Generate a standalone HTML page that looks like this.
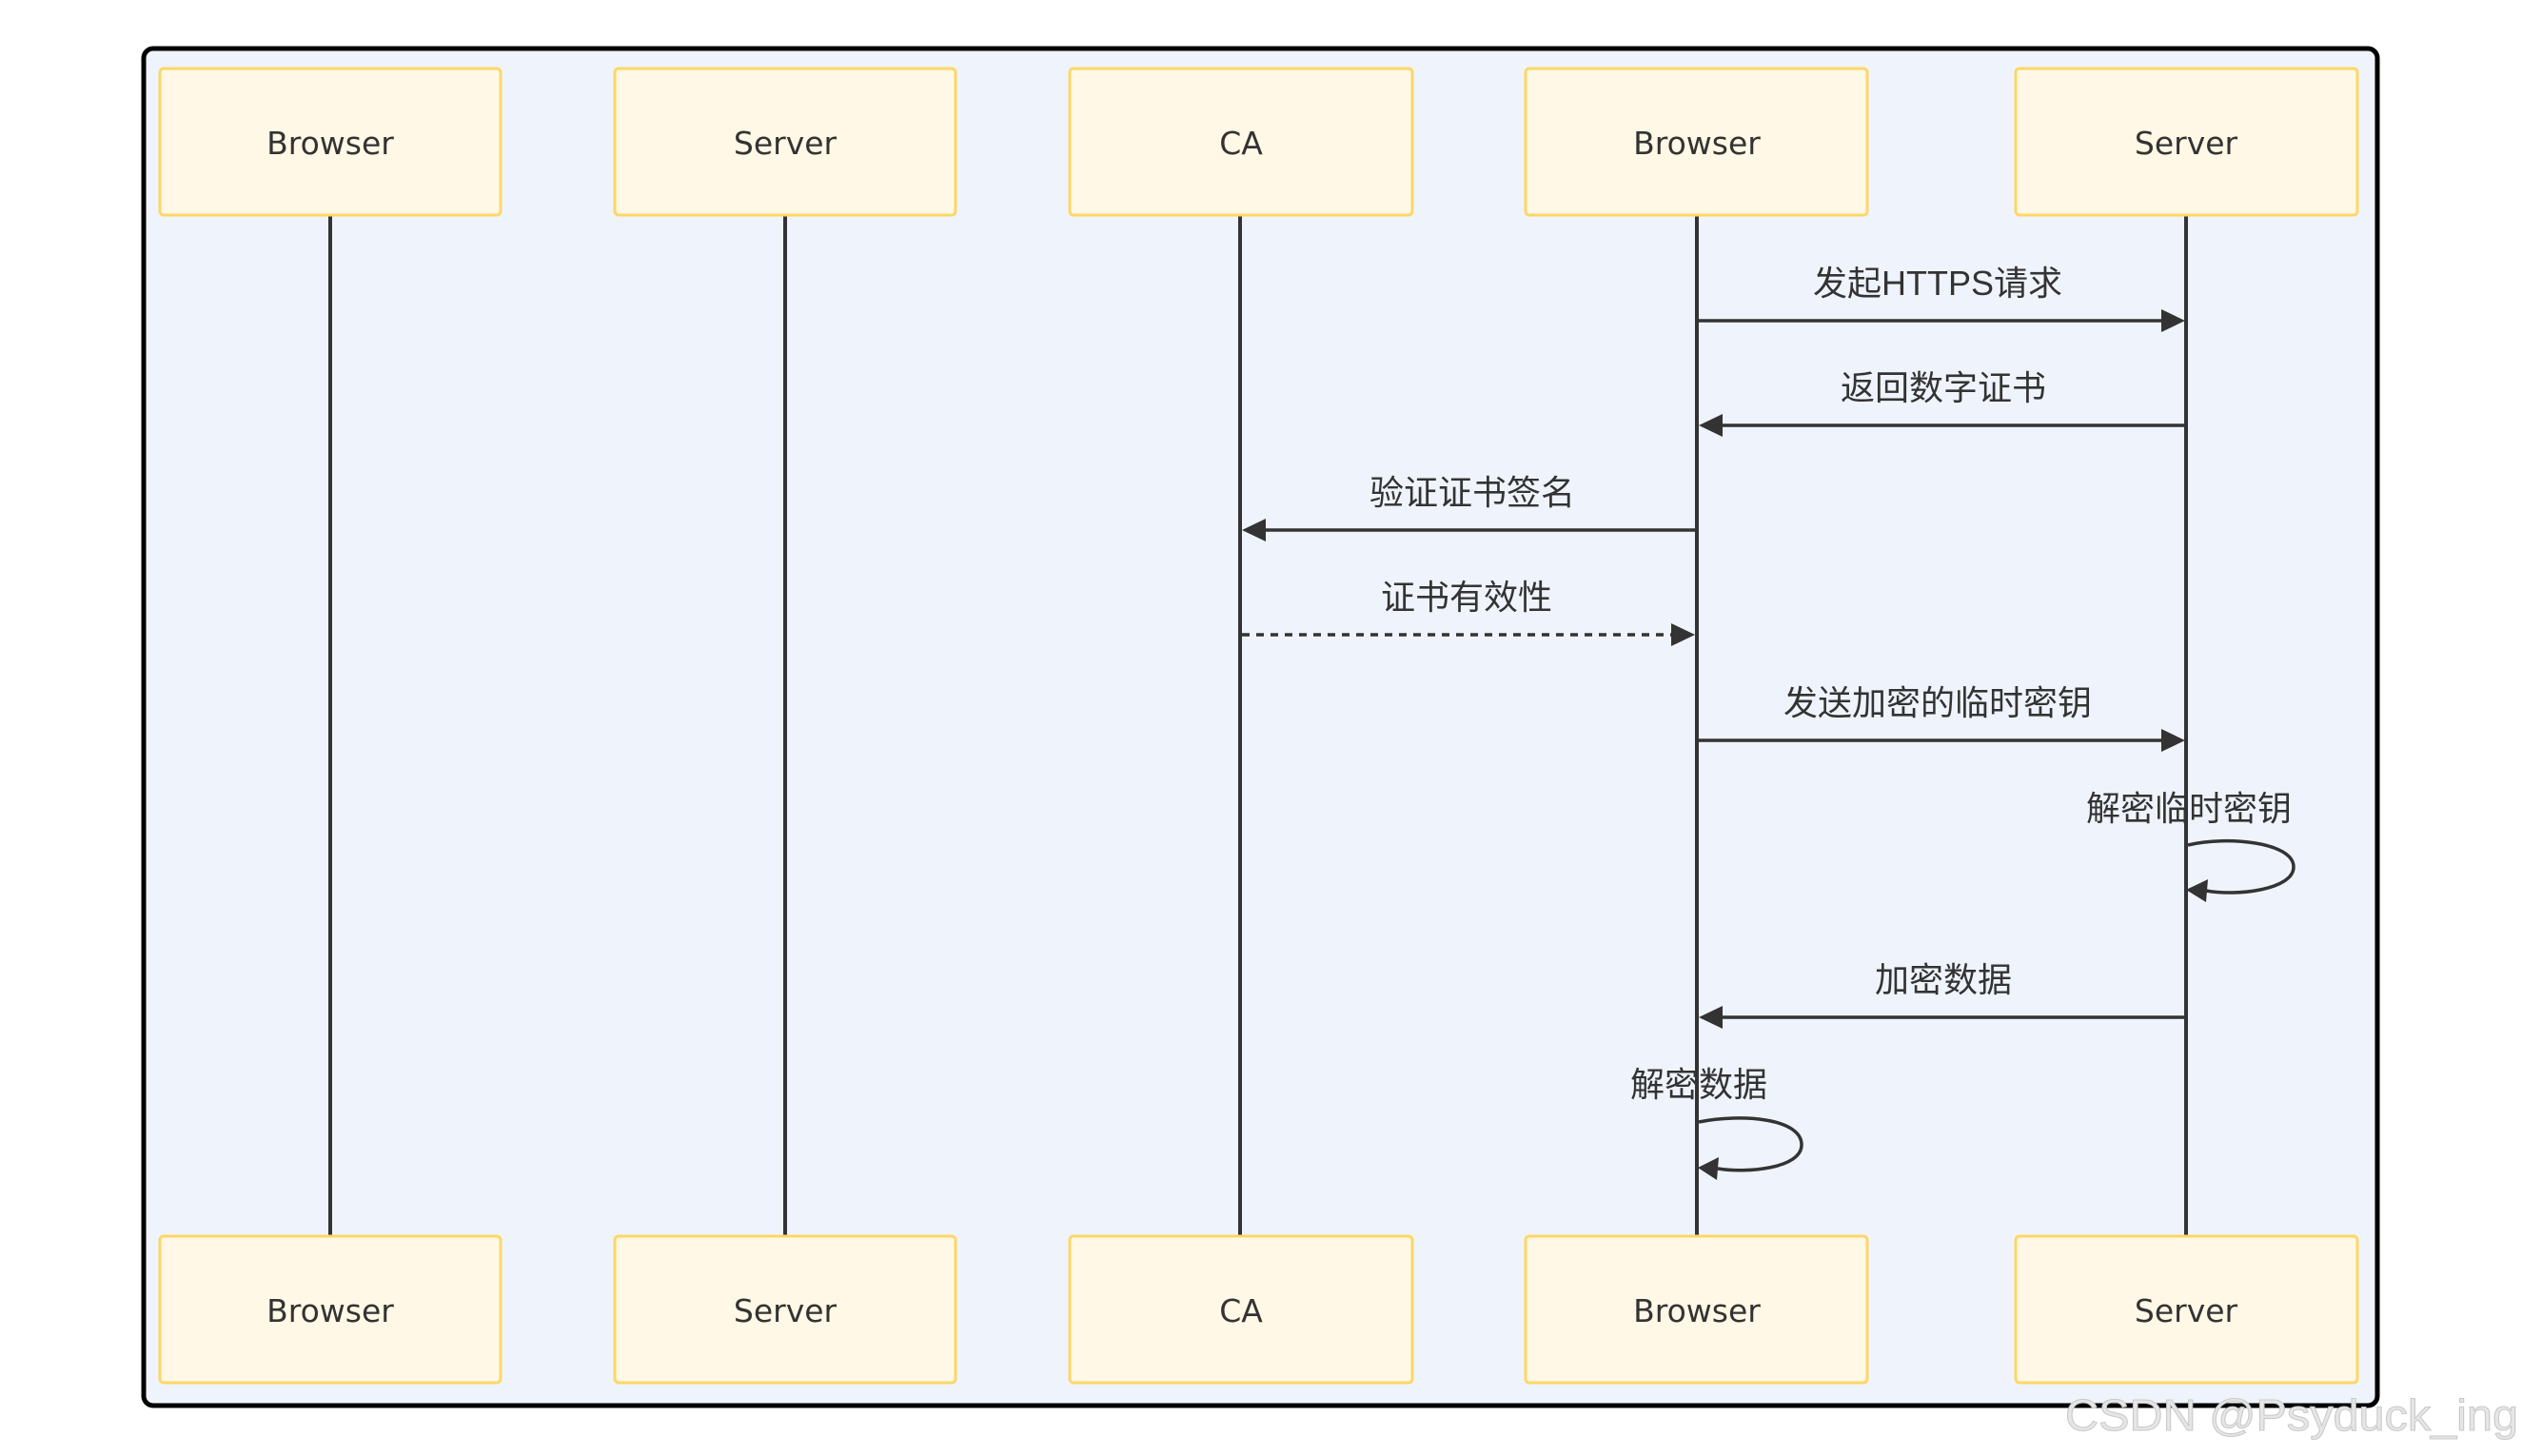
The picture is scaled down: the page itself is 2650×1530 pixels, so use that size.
<!DOCTYPE html>
<html><head><meta charset="utf-8"><style>
html,body{margin:0;padding:0;background:#fff;}
svg{display:block;}
.lbl{font-family:"Liberation Sans","Noto Sans CJK SC",sans-serif;font-size:36px;fill:#333;text-anchor:middle;}
.box{fill:#fff8e6;stroke:#ffd666;stroke-width:3;}
.bt{font-family:"DejaVu Sans","Liberation Sans",sans-serif;font-size:33px;fill:#333;text-anchor:middle;}
.life{stroke:#333;stroke-width:4;}
.msg{stroke:#333;stroke-width:3.5;fill:none;}
</style></head><body>
<svg width="2650" height="1530" viewBox="0 0 2650 1530" xmlns="http://www.w3.org/2000/svg">
<rect x="151" y="51" width="2347" height="1426" rx="10" fill="#eff4fc" stroke="#000" stroke-width="5"/>
<!-- lifelines -->
<line class="life" x1="347" y1="226" x2="347" y2="1299"/>
<line class="life" x1="825" y1="226" x2="825" y2="1299"/>
<line class="life" x1="1303" y1="226" x2="1303" y2="1299"/>
<line class="life" x1="1783" y1="226" x2="1783" y2="1299"/>
<line class="life" x1="2297" y1="226" x2="2297" y2="1299"/>
<!-- top boxes -->
<rect class="box" x="168" y="72" width="358" height="154" rx="4"/>
<rect class="box" x="646" y="72" width="358" height="154" rx="4"/>
<rect class="box" x="1124" y="72" width="360" height="154" rx="4"/>
<rect class="box" x="1603" y="72" width="359" height="154" rx="4"/>
<rect class="box" x="2118" y="72" width="359" height="154" rx="4"/>
<text class="bt" x="347" y="162">Browser</text>
<text class="bt" x="825" y="162">Server</text>
<text class="bt" x="1304" y="162">CA</text>
<text class="bt" x="1783" y="162">Browser</text>
<text class="bt" x="2297" y="162">Server</text>
<!-- bottom boxes -->
<rect class="box" x="168" y="1299" width="358" height="154" rx="4"/>
<rect class="box" x="646" y="1299" width="358" height="154" rx="4"/>
<rect class="box" x="1124" y="1299" width="360" height="154" rx="4"/>
<rect class="box" x="1603" y="1299" width="359" height="154" rx="4"/>
<rect class="box" x="2118" y="1299" width="359" height="154" rx="4"/>
<text class="bt" x="347" y="1389">Browser</text>
<text class="bt" x="825" y="1389">Server</text>
<text class="bt" x="1304" y="1389">CA</text>
<text class="bt" x="1783" y="1389">Browser</text>
<text class="bt" x="2297" y="1389">Server</text>
<!-- messages -->
<text class="lbl" x="2036" y="310">发起HTTPS请求</text>
<line class="msg" x1="1785" y1="337" x2="2272" y2="337"/>
<polygon points="2296,337 2271,325 2271,349" fill="#333"/>

<text class="lbl" x="2042" y="420">返回数字证书</text>
<line class="msg" x1="2295" y1="447" x2="1810" y2="447"/>
<polygon points="1785,447 1810,435 1810,459" fill="#333"/>

<text class="lbl" x="1547" y="530">验证证书签名</text>
<line class="msg" x1="1781" y1="557" x2="1330" y2="557"/>
<polygon points="1305,557 1330,545 1330,569" fill="#333"/>

<text class="lbl" x="1541" y="640">证书有效性</text>
<line class="msg" x1="1305" y1="667" x2="1758" y2="667" stroke-dasharray="8,7"/>
<polygon points="1781,667 1756,655 1756,679" fill="#333"/>

<text class="lbl" x="2036" y="751">发送加密的临时密钥</text>
<line class="msg" x1="1785" y1="778" x2="2272" y2="778"/>
<polygon points="2296,778 2271,766 2271,790" fill="#333"/>

<text class="lbl" x="2300" y="862">解密临时密钥</text>
<path class="msg" d="M2299,888 C2340,878 2410,885 2410,911 C2410,935 2350,942 2318,936"/>
<polygon points="2297,935 2320,924 2318,948" fill="#333"/>

<text class="lbl" x="2042" y="1042">加密数据</text>
<line class="msg" x1="2295" y1="1069" x2="1810" y2="1069"/>
<polygon points="1785,1069 1810,1057 1810,1081" fill="#333"/>

<text class="lbl" x="1785" y="1152">解密数据</text>
<path class="msg" d="M1785,1179 C1830,1170 1893,1175 1893,1203 C1893,1228 1835,1233 1805,1228"/>
<polygon points="1784,1227 1806,1216 1804,1240" fill="#333"/>

<text x="2170" y="1503" font-family="Liberation Sans, sans-serif" font-size="46" fill="#e6e6e6" stroke="#c8c8c8" stroke-width="1" textLength="476" lengthAdjust="spacingAndGlyphs">CSDN @Psyduck_ing</text>
</svg>
</body></html>
